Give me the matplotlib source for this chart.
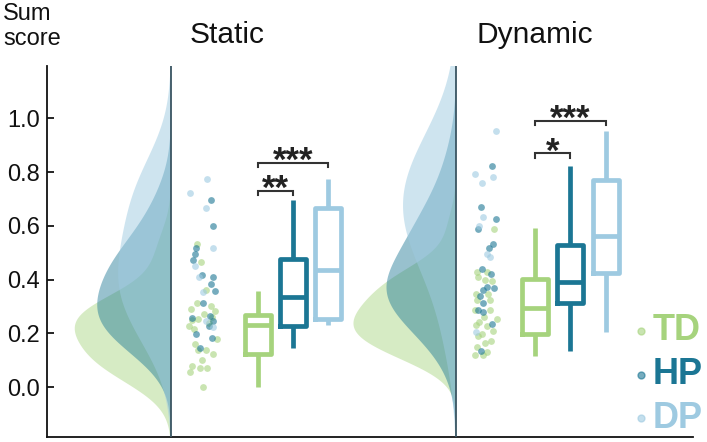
import numpy as np
import matplotlib
matplotlib.use("Agg")
import matplotlib.pyplot as plt
from matplotlib.lines import Line2D
from matplotlib.transforms import blended_transform_factory

plt.rcParams['font.family'] = ['Liberation Sans', 'DejaVu Sans']

# ---------------- data ----------------
groups = ["TD", "HP", "DP"]
conditions = ["Static", "Dynamic"]
colors = {"TD": "#a6d37d", "HP": "#1b7694", "DP": "#9ecae1"}

# individual sum scores and their horizontal jitter (px-like units)
static_td = [0.534, 0.466, 0.360, 0.311, 0.302, 0.282, 0.255, 0.227, 0.177, 0.162,
             0.137, 0.137, 0.124, 0.100, 0.077, 0.071, 0.071, 0.056, 0.000, 0.248,
             0.270, 0.262, 0.215, 0.290, 0.240]
static_td_jit = [-3.3, 0.7, 6, -3.3, 10.7, 15, -1.7, -10.7, 16.7, -5,
                 -1.7, 6, 13.3, 1.7, -8.3, 0, 6.7, -10, 2.7, -8.3,
                 4.0, 12.0, -6.0, -9.0, 8.5]
static_hp = [0.696, 0.599, 0.518, 0.497, 0.472, 0.416, 0.410, 0.383, 0.358, 0.311, 0.257,
             0.265, 0.246, 0.226, 0.199, 0.183, 0.145]
static_hp_jit = [11, 13.3, -4.3, -5, -7.3, 1.7, 13.3, 11, 15, 3.3, -8.3,
                 10, 13.3, 9.3, -4, 11.7, 0]
static_dp = [0.774, 0.724, 0.665, 0.516, 0.450, 0.410, 0.354, 0.246, 0.224]
static_dp_jit = [7.3, -10, 5.7, 13.3, -5, -0.7, 2.7, 6, 13.3]

dynamic_td = [0.588, 0.429, 0.429, 0.408, 0.398, 0.393, 0.348, 0.348, 0.323, 0.323, 0.286,
              0.286, 0.255, 0.242, 0.226, 0.199, 0.165, 0.149, 0.129, 0.118, 0.118,
              0.210, 0.190, 0.262, 0.172, 0.232]
dynamic_td_jit = [9, -8.3, 1.7, -6.7, 0, 6.7, -9, 3.3, -8.3, 5, -10,
                  5, 11.7, -5.7, 1.7, -3.3, 0, -8.3, 1.7, -10, -1.7,
                  8.0, -7.5, -1.0, 6.0, -9.5]
dynamic_hp = [0.824, 0.669, 0.625, 0.588, 0.531, 0.516, 0.441, 0.420, 0.373, 0.367, 0.360,
              0.339, 0.311, 0.286, 0.280, 0.236, 0.134]
dynamic_hp_jit = [6.7, -4, 10.7, -7.3, 8.3, 4.3, -3.3, 5.7, 1.7, 9, -1.7,
                  -5, -1.7, -6.7, -1.7, 6.7, -4]
dynamic_dp = [0.954, 0.793, 0.783, 0.758, 0.634, 0.600, 0.497, 0.484, 0.205]
dynamic_dp_jit = [10.7, -10, 7.7, -2.7, -1.7, -6, 2.3, 5, -9.3]

# box statistics: (whisker low, q1, median, q3, whisker high)
static_box = {"TD": (0.000, 0.124, 0.230, 0.267, 0.358),
              "HP": (0.145, 0.227, 0.335, 0.477, 0.696),
              "DP": (0.230, 0.252, 0.435, 0.668, 0.776)}
dynamic_box = {"TD": (0.116, 0.199, 0.296, 0.401, 0.593),
               "HP": (0.133, 0.311, 0.391, 0.528, 0.824),
               "DP": (0.205, 0.425, 0.563, 0.770, 0.953)}

# significance: (group a, group b, bracket height, label)
static_sig = [("TD", "HP", 0.730, "**"), ("TD", "DP", 0.835, "***")]
dynamic_sig = [("TD", "HP", 0.870, "*"), ("TD", "DP", 0.991, "***")]

yticks = [0.0, 0.2, 0.4, 0.6, 0.8, 1.0]

data = {
    "Static": ({"TD": (static_td, static_td_jit), "HP": (static_hp, static_hp_jit),
                "DP": (static_dp, static_dp_jit)}, static_box, static_sig),
    "Dynamic": ({"TD": (dynamic_td, dynamic_td_jit), "HP": (dynamic_hp, dynamic_hp_jit),
                 "DP": (dynamic_dp, dynamic_dp_jit)}, dynamic_box, dynamic_sig),
}

# ---------------- layout ----------------
W, H = 707, 442
fig = plt.figure(figsize=(W / 100, H / 100), dpi=100)
ax = fig.add_axes([47 / W, (H - 437) / H, (693 - 47) / W, (437 - 66) / H])
ax.set_xlim(47, 693)
ax.set_ylim(-0.186, 1.195)

layout = {
    "Static": dict(base=171, pts=200, box=[258, 293, 328], title=227),
    "Dynamic": dict(base=456, pts=485, box=[535, 570, 606], title=535),
}

BW_ADJUST = 1.25


def kde(vals, grid):
    v = np.asarray(vals, float)
    bw = BW_ADJUST * v.std(ddof=1) * len(v) ** (-1 / 5)
    z = (grid[:, None] - v[None, :]) / bw
    return np.exp(-0.5 * z ** 2).sum(1) / (len(v) * bw * np.sqrt(2 * np.pi))


grid = np.linspace(-0.8, 2.0, 800)
k = 36.0
alphas = {"TD": 0.45, "HP": 0.45, "DP": 0.5}

trans = blended_transform_factory(ax.transData, ax.transAxes)

for cond in conditions:
    pts, box, sig = data[cond]
    L = layout[cond]
    # half violins
    for g in groups:
        d = kde(pts[g][0], grid)
        ax.fill_betweenx(grid, L["base"] - k * d, L["base"], color=colors[g],
                         alpha=alphas[g], lw=0, zorder=1)
    ax.axvline(L["base"], color="#3a5562", lw=1.3, zorder=3)
    # points
    for g in groups:
        y, j = pts[g]
        ax.scatter(L["pts"] + np.asarray(j), y, s=24, color=colors[g], alpha=0.6,
                   lw=0, zorder=4)
    # boxes
    for i, g in enumerate(groups):
        lo, q1, med, q3, hi = box[g]
        st = [dict(whislo=lo, q1=q1, med=med, q3=q3, whishi=hi, fliers=[])]
        c = colors[g]
        ax.bxp(st, positions=[L["box"][i]], widths=25.5, showcaps=False,
               showfliers=False, patch_artist=False, manage_ticks=False,
               boxprops=dict(color=c, lw=3.4),
               whiskerprops=dict(color=c, lw=3.4, solid_capstyle="butt"),
               medianprops=dict(color=c, lw=3.4), zorder=5)
    # significance brackets
    for a, b, h, lab in sig:
        xa = L["box"][groups.index(a)]
        xb = L["box"][groups.index(b)]
        ax.plot([xa, xa, xb, xb], [h - 0.016, h, h, h - 0.016], color="#333333",
                lw=1.5, zorder=6, solid_joinstyle="miter")
        ax.text((xa + xb) / 2, h - 0.030, lab, ha="center", va="baseline",
                fontsize=25, fontweight="bold", color="#222222", zorder=6)
    # panel title
    ax.text(L["title"], 1.062, cond, transform=trans, ha="center", va="baseline",
            fontsize=21.5, color="#111111")

# axes styling
for s in ["top", "right"]:
    ax.spines[s].set_visible(False)
for s in ["left", "bottom"]:
    ax.spines[s].set_linewidth(1.3)
    ax.spines[s].set_color("#111111")
ax.set_xticks([])
ax.set_yticks(yticks)
ax.set_yticklabels([f"{t:.1f}" for t in yticks])
ax.tick_params(axis="y", direction="in", length=5, width=1.2, labelsize=17,
               pad=5, labelcolor="#111111")

fig.text(3 / W, 1 - 3 / H, "Sum\nscore", ha="left", va="top", fontsize=17,
         color="#111111", linespacing=1.15)

# legend (dots + coloured labels)
for i, g in enumerate(groups):
    yp = [331, 375, 418][i]
    fig.text(653 / W, 1 - yp / H, g, ha="left", va="center", fontsize=26,
             fontweight="bold", color=colors[g])
    fig.add_artist(Line2D([641 / W], [1 - yp / H], marker="o", ms=5,
                          color=colors[g], alpha=0.6, lw=0,
                          transform=fig.transFigure))

fig.savefig("out.png", dpi=100)
